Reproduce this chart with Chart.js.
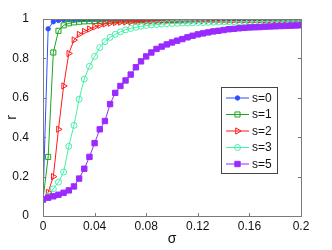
<!DOCTYPE html>
<html>
<head>
<meta charset="utf-8">
<script src="https://cdn.jsdelivr.net/npm/chart.js@4/dist/chart.umd.min.js"></script>
<style>
  html, body { margin: 0; padding: 0; background: #fff; }
  #wrap { width: 332px; height: 250px; }
</style>
</head>
<body>
<div id="wrap"><canvas id="chart" width="332" height="250"></canvas></div>
<script>
// valores
const sigma = [
  0, 0.004, 0.008, 0.012, 0.016, 0.02, 0.024, 0.028, 0.032, 0.036,
  0.04, 0.044, 0.048, 0.052, 0.056, 0.06, 0.064, 0.068, 0.072, 0.076,
  0.08, 0.084, 0.088, 0.092, 0.096, 0.1, 0.104, 0.108, 0.112, 0.116,
  0.12, 0.124, 0.128, 0.132, 0.136, 0.14, 0.144, 0.148, 0.152, 0.156,
  0.16, 0.164, 0.168, 0.172, 0.176, 0.18, 0.184, 0.188, 0.192, 0.196, 0.2
];
const seriesLabels = ["s=0", "s=1", "s=2", "s=3", "s=5"];
const rS0 = [
  0.084, 0.95, 0.986, 0.993, 0.996, 0.997, 0.997, 0.998, 0.998, 0.998,
  0.998, 0.998, 0.999, 0.999, 0.999, 0.999, 0.999, 0.999, 0.999, 0.999,
  0.999, 0.999, 0.999, 0.999, 0.999, 0.999, 0.999, 0.999, 0.999, 0.999,
  0.999, 0.999, 0.999, 0.999, 0.999, 0.999, 0.999, 0.999, 0.999, 0.999,
  0.999, 0.999, 0.999, 0.999, 0.999, 0.999, 0.999, 0.999, 0.999, 0.999, 0.999
];
const rS1 = [
  0.084, 0.30, 0.83, 0.94, 0.968, 0.978, 0.983, 0.986, 0.988, 0.989,
  0.990, 0.991, 0.991, 0.992, 0.992, 0.993, 0.993, 0.993, 0.994, 0.994,
  0.994, 0.994, 0.995, 0.995, 0.995, 0.995, 0.995, 0.996, 0.996, 0.996,
  0.996, 0.996, 0.996, 0.996, 0.997, 0.997, 0.997, 0.997, 0.997, 0.997,
  0.997, 0.997, 0.997, 0.997, 0.998, 0.998, 0.998, 0.998, 0.998, 0.998, 0.998
];
const rS2 = [
  0.084, 0.12, 0.20, 0.44, 0.66, 0.825, 0.893, 0.922, 0.937, 0.949,
  0.960, 0.968, 0.975, 0.979, 0.982, 0.984, 0.985, 0.986, 0.987, 0.988,
  0.988, 0.989, 0.989, 0.990, 0.990, 0.991, 0.991, 0.991, 0.992, 0.992,
  0.992, 0.992, 0.993, 0.993, 0.993, 0.993, 0.993, 0.994, 0.994, 0.994,
  0.994, 0.994, 0.994, 0.995, 0.995, 0.995, 0.995, 0.995, 0.995, 0.995, 0.995
];
const rS3 = [
  0.084, 0.10, 0.138, 0.172, 0.223, 0.354, 0.46, 0.593, 0.695, 0.76,
  0.81, 0.855, 0.885, 0.907, 0.922, 0.935, 0.945, 0.952, 0.958, 0.963,
  0.967, 0.970, 0.972, 0.974, 0.976, 0.977, 0.978, 0.979, 0.980, 0.981,
  0.982, 0.982, 0.983, 0.984, 0.984, 0.985, 0.985, 0.986, 0.986, 0.987,
  0.987, 0.987, 0.988, 0.988, 0.988, 0.989, 0.989, 0.989, 0.990, 0.990, 0.990
];
const rS5 = [
  0.084, 0.093, 0.100, 0.108, 0.118, 0.130, 0.150, 0.190, 0.240, 0.300,
  0.370, 0.440, 0.482, 0.568, 0.625, 0.660, 0.688, 0.718, 0.755, 0.785,
  0.810, 0.830, 0.848, 0.860, 0.871, 0.881, 0.890, 0.898, 0.907, 0.915,
  0.922, 0.927, 0.932, 0.937, 0.940, 0.944, 0.948, 0.950, 0.953, 0.955,
  0.957, 0.958, 0.959, 0.961, 0.962, 0.963, 0.964, 0.965, 0.966, 0.967, 0.968
];
const xTicks = [0, 0.04, 0.08, 0.12, 0.16, 0.2];
const yTicks = [0, 0.2, 0.4, 0.6, 0.8, 1];

const FONT = "'Liberation Sans', Arial, sans-serif";
const AXIS_COLOR = "#7a7a7a";

const toPoints = (vals) => sigma.map((x, i) => ({ x: x, y: vals[i] }));

const estilos = [
  { color: "#2f4fff", pointStyle: "circle", radius: 2.2, fill: true, rot: 0 },
  { color: "#1ea51e", pointStyle: "rect", radius: 3.6, fill: false, rot: 0 },
  { color: "#ff1a1a", pointStyle: "triangle", radius: 3.6, fill: false, rot: 90 },
  { color: "#45f0a8", pointStyle: "circle", radius: 3, fill: false, rot: 0 },
  { color: "#9a2bff", pointStyle: "rect", radius: 3.8, fill: true, rot: 0 }
];
const valores = [rS0, rS1, rS2, rS3, rS5];

const datasets = valores.map((vals, i) => {
  const e = estilos[i];
  return {
    label: seriesLabels[i],
    data: toPoints(vals),
    borderColor: e.color,
    backgroundColor: e.fill ? e.color : "rgba(0,0,0,0)",
    borderWidth: 1,
    pointStyle: e.pointStyle,
    pointRadius: e.radius,
    pointRotation: e.rot,
    pointBorderColor: e.color,
    pointBackgroundColor: e.fill ? e.color : "rgba(0,0,0,0)",
    pointBorderWidth: 1,
    tension: 0,
    order: valores.length - i
  };
});

// marco, marcas hacia dentro, etiquetas del eje x y leyenda
const frame = {
  id: "frame",
  afterDraw(chart) {
    const ctx = chart.ctx;
    const a = chart.chartArea;
    const sx = chart.scales.x, sy = chart.scales.y;
    ctx.save();
    ctx.strokeStyle = AXIS_COLOR;
    ctx.lineWidth = 1;
    ctx.strokeRect(Math.round(a.left) + 0.5, Math.round(a.top) + 0.5,
      Math.round(a.right - a.left), Math.round(a.bottom - a.top));
    ctx.beginPath();
    xTicks.forEach(v => {
      const px = Math.round(sx.getPixelForValue(v)) + 0.5;
      ctx.moveTo(px, a.bottom); ctx.lineTo(px, a.bottom - 3);
      ctx.moveTo(px, a.top); ctx.lineTo(px, a.top + 3);
    });
    yTicks.forEach(v => {
      const py = Math.round(sy.getPixelForValue(v)) + 0.5;
      ctx.moveTo(a.left, py); ctx.lineTo(a.left + 3, py);
      ctx.moveTo(a.right, py); ctx.lineTo(a.right - 3, py);
    });
    ctx.stroke();

    ctx.fillStyle = "#111";
    ctx.font = "12px " + FONT;
    ctx.textAlign = "center";
    ctx.textBaseline = "middle";
    xTicks.forEach(v => {
      ctx.fillText(String(Number(v.toFixed(2))), sx.getPixelForValue(v), a.bottom + 10.5);
    });
    ctx.font = "14px " + FONT;
    ctx.fillText("σ", (a.left + a.right) / 2, a.bottom + 23);

    // leyenda
    const lx = 221, ly = 87, lw = 56, lh = 86;
    ctx.textAlign = "left";
    ctx.fillStyle = "#fff";
    ctx.fillRect(lx, ly, lw, lh);
    ctx.strokeStyle = "#444";
    ctx.strokeRect(lx + 0.5, ly + 0.5, lw, lh);
    ctx.font = "12px " + FONT;
    chart.data.datasets.forEach((ds, i) => {
      const y = ly + 11 + i * 16.5;
      ctx.strokeStyle = ds.borderColor;
      ctx.lineWidth = 1;
      ctx.beginPath();
      ctx.moveTo(lx + 5, y); ctx.lineTo(lx + 28, y);
      ctx.stroke();
      ctx.fillStyle = ds.pointBackgroundColor;
      ctx.strokeStyle = ds.pointBorderColor;
      Chart.helpers.drawPoint(ctx, {
        pointStyle: ds.pointStyle,
        radius: ds.pointRadius,
        rotation: ds.pointRotation,
        borderWidth: 1
      }, lx + 16.5, y);
      ctx.fillStyle = "#111";
      ctx.fillText(ds.label, lx + 31, y + 0.5);
    });
    ctx.restore();
  }
};

new Chart(document.getElementById("chart"), {
  type: "line",
  data: { datasets: datasets },
  options: {
    responsive: false,
    animation: false,
    devicePixelRatio: 1,
    layout: { padding: { left: 0, top: 19, right: 31, bottom: 0 } },
    plugins: { legend: { display: false }, tooltip: { enabled: false } },
    scales: {
      x: {
        type: "linear",
        min: 0,
        max: 0.2,
        afterFit: (s) => { s.height = 34; },
        afterBuildTicks: (s) => { s.ticks = xTicks.map(v => ({ value: v })); },
        grid: { display: false },
        border: { display: false },
        ticks: { display: false }
      },
      y: {
        type: "linear",
        min: 0,
        max: 1,
        afterFit: (s) => { s.width = 43; },
        afterBuildTicks: (s) => { s.ticks = yTicks.map(v => ({ value: v })); },
        grid: { display: false },
        border: { display: false },
        ticks: {
          padding: 6,
          color: "#111",
          font: { size: 12, family: FONT },
          callback: (v) => String(Number(v.toFixed(1)))
        },
        title: {
          display: true,
          text: "r",
          color: "#111",
          font: { size: 14, family: FONT },
          padding: { top: 4, bottom: 0 }
        }
      }
    }
  },
  plugins: [frame]
});
</script>
</body>
</html>
